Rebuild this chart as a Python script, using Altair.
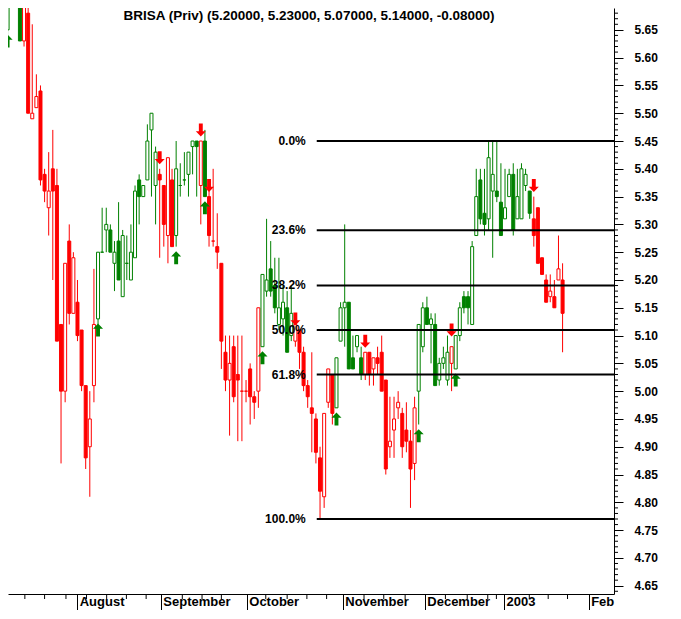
import altair as alt
import pandas as pd

TITLE = "BRISA (Priv) (5.20000, 5.23000, 5.07000, 5.14000, -0.08000)"

# daily candles (trading-day index 0..135)
opens = [5.65, 5.74, 5.76, 5.73, 5.63, 5.68, 5.49, 5.51, 5.54, 5.39,
         5.33, 5.40, 5.37, 5.12, 5.00, 5.27, 5.14, 5.16, 5.11, 5.01,
         4.90, 5.01, 5.13, 5.25, 5.29, 5.29, 5.23, 5.27, 5.17, 5.23,
         5.20, 5.24, 5.38, 5.35, 5.38, 5.47, 5.37, 5.39, 5.37, 5.28,
         5.38, 5.28, 5.37, 5.38, 5.39, 5.44, 5.45, 5.37, 5.45, 5.35,
         5.27, 5.26, 5.23, 5.07, 5.02, 5.08, 5.03, 5.00, 5.00, 5.04,
         4.99, 5.00, 5.08, 5.18, 5.22, 5.19, 5.12, 5.13, 5.15, 5.10,
         5.09, 5.11, 5.07, 5.01, 4.97, 4.95, 4.88, 4.81, 4.98, 5.03,
         4.97, 5.09, 5.15, 5.16, 5.06, 5.08, 5.06, 5.03, 5.07, 5.04,
         5.06, 5.07, 5.02, 4.90, 4.93, 4.97, 4.96, 4.93, 4.91, 4.87,
         5.00, 5.08, 5.15, 5.12, 5.12, 5.02, 5.05, 5.02, 5.05, 5.04,
         5.10, 5.17, 5.17, 5.12, 5.28, 5.38, 5.32, 5.31, 5.36, 5.36,
         5.34, 5.31, 5.35, 5.39, 5.31, 5.31, 5.37, 5.36, 5.31, 5.33,
         5.24, 5.20, 5.17, 5.17, 5.20, 5.20]
highs = [5.73, 5.78, 5.79, 5.75, 5.72, 5.71, 5.66, 5.57, 5.55, 5.40,
         5.43, 5.47, 5.40, 5.12, 5.23, 5.30, 5.25, 5.20, 5.11, 5.01,
         5.00, 5.22, 5.25, 5.33, 5.33, 5.30, 5.27, 5.34, 5.29, 5.28,
         5.30, 5.37, 5.39, 5.37, 5.48, 5.50, 5.44, 5.40, 5.37, 5.42,
         5.40, 5.45, 5.41, 5.43, 5.43, 5.45, 5.45, 5.45, 5.47, 5.36,
         5.40, 5.32, 5.23, 5.10, 5.10, 5.10, 5.10, 5.10, 5.02, 5.05,
         5.00, 5.15, 5.21, 5.31, 5.27, 5.24, 5.24, 5.19, 5.18, 5.19,
         5.12, 5.11, 5.08, 5.02, 5.07, 4.96, 4.90, 4.96, 5.04, 5.03,
         5.06, 5.16, 5.30, 5.16, 5.10, 5.10, 5.08, 5.07, 5.07, 5.06,
         5.08, 5.10, 5.02, 4.99, 4.99, 5.00, 4.97, 4.98, 4.93, 4.99,
         5.12, 5.16, 5.17, 5.14, 5.14, 5.06, 5.08, 5.10, 5.08, 5.10,
         5.16, 5.18, 5.18, 5.27, 5.40, 5.40, 5.40, 5.45, 5.45, 5.45,
         5.41, 5.40, 5.40, 5.41, 5.40, 5.41, 5.40, 5.36, 5.35, 5.33,
         5.24, 5.21, 5.21, 5.20, 5.28, 5.23]
lows = [5.64, 5.72, 5.72, 5.63, 5.62, 5.50, 5.49, 5.51, 5.37, 5.34,
        5.28, 5.20, 5.09, 4.87, 4.98, 5.12, 5.14, 5.09, 5.00, 4.86,
        4.81, 4.98, 5.12, 5.25, 5.25, 5.25, 5.18, 5.20, 5.17, 5.20,
        5.20, 5.24, 5.30, 5.35, 5.38, 5.35, 5.30, 5.24, 5.26, 5.23,
        5.26, 5.26, 5.35, 5.37, 5.35, 5.39, 5.35, 5.30, 5.35, 5.26,
        5.26, 5.22, 5.04, 5.00, 4.92, 4.98, 4.91, 4.91, 4.98, 4.94,
        4.95, 4.97, 5.08, 5.17, 5.17, 5.14, 5.11, 5.10, 5.07, 5.09,
        5.08, 5.04, 5.00, 4.97, 4.89, 4.87, 4.77, 4.79, 4.97, 4.94,
        4.97, 5.09, 5.08, 5.04, 5.04, 5.07, 5.02, 5.02, 5.01, 5.01,
        5.03, 5.00, 4.85, 4.88, 4.88, 4.95, 4.88, 4.89, 4.79, 4.84,
        4.94, 5.07, 5.12, 5.05, 5.01, 5.01, 5.04, 5.01, 5.00, 5.04,
        5.09, 5.14, 5.12, 5.12, 5.28, 5.30, 5.28, 5.29, 5.24, 5.34,
        5.28, 5.31, 5.35, 5.28, 5.31, 5.31, 5.36, 5.31, 5.26, 5.23,
        5.21, 5.16, 5.16, 5.15, 5.20, 5.07]
closes = [5.72, 5.76, 5.73, 5.63, 5.70, 5.50, 5.50, 5.53, 5.38, 5.36,
          5.36, 5.36, 5.09, 5.00, 5.23, 5.14, 5.24, 5.10, 5.01, 4.88,
          4.95, 5.12, 5.25, 5.25, 5.30, 5.25, 5.25, 5.20, 5.28, 5.23,
          5.25, 5.36, 5.35, 5.37, 5.45, 5.50, 5.43, 5.38, 5.30, 5.42,
          5.26, 5.40, 5.37, 5.38, 5.43, 5.45, 5.44, 5.45, 5.35, 5.28,
          5.27, 5.25, 5.09, 5.02, 5.05, 4.99, 5.02, 5.00, 5.00, 4.99,
          4.98, 5.15, 5.21, 5.20, 5.18, 5.15, 5.15, 5.16, 5.07, 5.14,
          5.12, 5.07, 5.01, 4.99, 4.96, 4.89, 4.82, 4.96, 5.04, 4.96,
          5.06, 5.15, 5.16, 5.04, 5.04, 5.10, 5.03, 5.07, 5.03, 5.06,
          5.05, 5.00, 4.86, 4.91, 4.95, 4.98, 4.90, 4.91, 4.86, 4.97,
          5.12, 5.15, 5.12, 5.13, 5.01, 5.05, 5.06, 5.07, 5.08, 5.10,
          5.15, 5.15, 5.15, 5.26, 5.35, 5.31, 5.30, 5.42, 5.39, 5.35,
          5.28, 5.33, 5.39, 5.29, 5.35, 5.40, 5.39, 5.32, 5.28, 5.23,
          5.21, 5.16, 5.18, 5.15, 5.22, 5.14]

# buy (green up arrow) and sell (red down arrow) signals
buy_idx = [0, 22, 41, 48, 62, 80, 100, 109]
buy_price = [5.63, 5.11, 5.24, 5.33, 5.06, 4.95, 4.92, 5.02]
sell_idx = [4, 37, 47, 49, 70, 87, 108, 128]
sell_price = [5.76, 5.42, 5.47, 5.37, 5.13, 5.09, 5.11, 5.37]

# Fibonacci retracement
fib_high = 5.45
fib_low = 4.77
fib_ratios = [0.0, 0.236, 0.382, 0.5, 0.618, 1.0]
fib_labels = ["0.0%", "23.6%", "38.2%", "50.0%", "61.8%", "100.0%"]
fib_start = 75.2

# axis labels
month_names = ["July", "August", "September", "October", "November", "December", "2003", "Feb"]
month_pos = [-4.5, 16.94, 37.27, 58.18, 81.53, 101.48, 120.77, 141.34]
week_pos = [4.2, 9.0, 14.2, 19.2, 24.1, 28.9, 33.7, 42.5, 47.3, 52.0, 62.8, 68.0,
            72.8, 77.6, 86.7, 91.5, 96.7, 106.5, 111.8, 116.8, 118.9, 126.9, 131.5, 136.2]
price_ticks = [4.65, 4.70, 4.75, 4.80, 4.85, 4.90, 4.95, 5.00, 5.05, 5.10, 5.15,
               5.20, 5.25, 5.30, 5.35, 5.40, 5.45, 5.50, 5.55, 5.60, 5.65]
minor_ticks = [round(4.64 + 0.01 * k, 2) for k in range(105)]

GREEN = "#008000"
RED = "#ff0000"
FONT = "Liberation Sans"
W, H = 606, 586

# colour regime from the signals
sig = {i: GREEN for i in buy_idx}
sig.update({i: RED for i in sell_idx})
colors, cur = [], GREEN
for i in range(len(opens)):
    cur = sig.get(i, cur)
    colors.append(cur)
fills = [c if cl < o else "#ffffff" for c, o, cl in zip(colors, opens, closes)]

df = pd.DataFrame({"i": list(range(len(opens))), "open": opens, "high": highs,
                   "low": lows, "close": closes, "color": colors, "fill": fills})
df_buy = pd.DataFrame({"i": buy_idx, "p": buy_price})
df_sell = pd.DataFrame({"i": sell_idx, "p": sell_price})
df_fib = pd.DataFrame({"start": [fib_start] * len(fib_ratios),
                       "level": [fib_high - r * (fib_high - fib_low) for r in fib_ratios],
                       "label": fib_labels})
df_week = pd.DataFrame({"w": week_pos})
df_minor = pd.DataFrame({"v": [v for v in minor_ticks if round(v * 100) % 5 != 0]})

label_expr = " : ".join(f"abs(datum.value - ({p})) < 0.05 ? '{n}'"
                        for p, n in zip(month_pos, month_names)) + " : ''"

x_scale = alt.Scale(domain=[1.316, 146.29], nice=False, zero=False)
y_scale = alt.Scale(domain=[4.6351, 5.6893], nice=False, zero=False)
x_axis = alt.Axis(values=month_pos, labelExpr=label_expr, tickSize=16, tickColor="black",
                  domainColor="black", labelAlign="left", labelBaseline="top",
                  labelPadding=-15, labelOffset=2, labelFont=FONT, labelFontSize=13,
                  labelFontWeight="bold", labelColor="black", labelFlush=False,
                  labelOverlap=False, grid=False, title=None)
y_axis = alt.Axis(orient="right", values=price_ticks, format=".2f", tickSize=9,
                  tickColor="black", domainColor="black", labelPadding=11, labelFont=FONT,
                  labelFontSize=12, labelFontWeight="bold", labelColor="black",
                  labelFlush=False, labelOverlap=False, grid=False, title=None)


def X(f):
    return alt.X(f, type="quantitative", scale=x_scale, axis=x_axis)


def Y(f):
    return alt.Y(f, type="quantitative", scale=y_scale, axis=y_axis)


base = alt.Chart(df)
wicks = base.mark_rule(strokeWidth=1, clip=True).encode(
    x=X("i"), y=Y("low"), y2="high", color=alt.Color("color:N", scale=None))
bodies = base.mark_bar(size=3, strokeWidth=1, clip=True).encode(
    x=X("i"), y=Y("open"), y2="close",
    fill=alt.Fill("fill:N", scale=None), stroke=alt.Stroke("color:N", scale=None))

UP = "M0,-1 L0.77,-0.2 L0.3,-0.2 L0.3,1 L-0.3,1 L-0.3,-0.2 L-0.77,-0.2 Z"
DOWN = "M0,1 L0.77,0.2 L0.3,0.2 L0.3,-1 L-0.3,-1 L-0.3,0.2 L-0.77,0.2 Z"
buys = alt.Chart(df_buy).mark_point(shape=UP, size=169, filled=True, opacity=1,
                                     strokeWidth=0, clip=True).encode(
    x=X("i"), y=Y("p"), color=alt.value(GREEN))
sells = alt.Chart(df_sell).mark_point(shape=DOWN, size=169, filled=True, opacity=1,
                                       strokeWidth=0, clip=True).encode(
    x=X("i"), y=Y("p"), color=alt.value(RED))

fib_lines = alt.Chart(df_fib).mark_rule(color="black", strokeWidth=2).encode(
    x=X("start"), x2=alt.value(W), y=Y("level"))
fib_text = alt.Chart(df_fib).mark_text(align="right", baseline="middle", dx=-11,
                                       font=FONT, fontSize=12, fontWeight="bold",
                                       color="black").encode(
    x=X("start"), y=Y("level"), text="label:N")

weeks = alt.Chart(df_week).mark_rule(color="black", strokeWidth=1).encode(
    x=X("w"), y=alt.value(H), y2=alt.value(H + 5))
minors = alt.Chart(df_minor).mark_rule(color="black", strokeWidth=1).encode(
    y=Y("v"), x=alt.value(W), x2=alt.value(W + 4))

title = alt.Chart(pd.DataFrame({"t": [TITLE]})).mark_text(
    font=FONT, fontSize=13.5, fontWeight="bold", color="black",
    align="center", baseline="middle").encode(
    x=alt.value(301), y=alt.value(7.5), text="t:N")

chart = alt.layer(wicks, bodies, buys, sells, fib_lines, fib_text, weeks, minors, title).properties(
    width=W, height=H,
    autosize=alt.AutoSizeParams(type="none"),
    padding={"left": 0, "top": 0, "right": 58, "bottom": 16},
).configure_view(stroke=None)

chart.save("out.html", embed_options={"renderer": "svg", "actions": False})
